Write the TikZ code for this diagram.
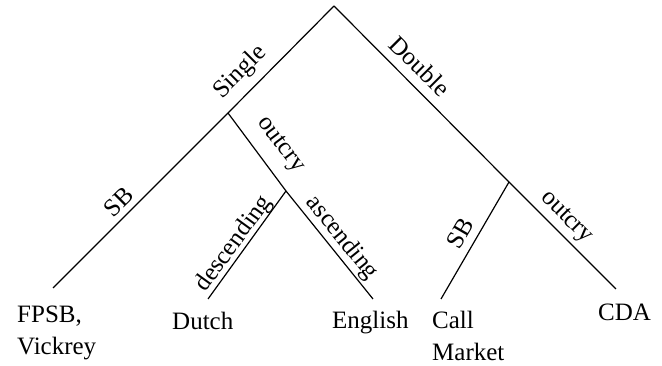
\documentclass[tikz,border=0pt]{standalone}
\usepackage{fontspec}
\setmainfont{Liberation Serif}
\begin{document}
\begin{tikzpicture}[x=1pt,y=1pt,
  branch/.style={line width=1.2pt},
  lbl/.style={inner sep=0pt, font=\fontsize{25}{31.5}\selectfont},
  leaf/.style={inner sep=0pt, anchor=base west, font=\fontsize{25}{31.5}\selectfont}]
\useasboundingbox (0,0) rectangle (662,366);
% junctions
\coordinate (root) at (334,360);
\coordinate (s) at (228,253);
\coordinate (o) at (286,175);
\coordinate (d) at (509,184);
\coordinate (fpsbEnd) at (53,78);
\coordinate (dutchEnd) at (208,67);
\coordinate (englishEnd) at (373,67);
\coordinate (callEnd) at (441,67);
\coordinate (cdaEnd) at (616,77);
% branches
\draw[branch] (root) -- (s) -- (fpsbEnd);
\draw[branch] (root) -- (d) -- (cdaEnd);
\draw[branch] (s) -- (o) -- (englishEnd);
\draw[branch] (o) -- (dutchEnd);
\draw[branch] (d) -- (callEnd);
% branch labels
\node[lbl, rotate=45] (lsingle) at (240.5,293.5) {Single};
\node[lbl, rotate=-45] (ldouble) at (420,300) {Double};
\node[lbl, rotate=45] (lsb1) at (119,164) {SB};
\node[lbl, rotate=-53] (lout1) at (280,221) {outcry};
\node[lbl, rotate=54] (ldesc) at (234,122) {descending};
\node[lbl, rotate=-51] (lasc) at (342,128) {ascending};
\node[lbl, rotate=60] (lsb2) at (460,133) {SB};
\node[lbl, rotate=-45] (lout2) at (566,148) {outcry};
% leaves
\node[leaf] (fpsb) at (17,43) {FPSB,};
\node[leaf] (vick) at (17,11) {Vickrey};
\node[leaf] (dutch) at (172,36) {Dutch};
\node[leaf] (english) at (332,37) {English};
\node[leaf] (call) at (432,37) {Call};
\node[leaf] (market) at (432,5.5) {Market};
\node[leaf] (cda) at (598,45) {CDA};
\end{tikzpicture}
\end{document}
